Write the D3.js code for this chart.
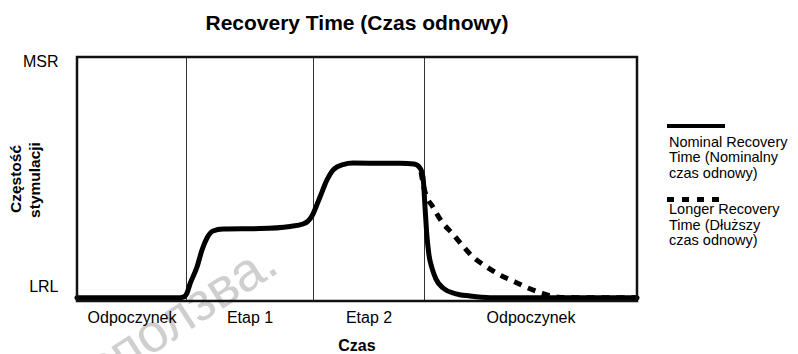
<!DOCTYPE html>
<html>
<head>
<meta charset="utf-8">
<script src="https://cdn.jsdelivr.net/npm/d3@7/dist/d3.min.js"></script>
<style>
  body { margin: 0; background: #fff; }
  svg text { font-family: "Liberation Sans", Arial, sans-serif; fill: #000; }
</style>
</head>
<body>
<svg id="chart" width="798" height="354"></svg>
<script>
// Phases of the exercise session (time in minutes)
const phaseLabels = ["Odpoczynek", "Etap 1", "Etap 2", "Odpoczynek"];
const phaseBounds = [0, 5.45, 11.8, 17.35, 28];

// Pacing rate, % of the span between LRL (0) and MSR (100)
const nominalTime = [0, 5.15, 5.3, 5.5, 5.65, 6.0, 6.25, 6.5, 6.8, 7.3, 9.15, 10.65, 11.3, 11.55,
  11.75, 11.95, 12.15, 12.5, 12.8, 13.3, 13.8, 16.15, 16.85, 17.15, 17.3, 17.4, 17.5, 17.6,
  17.75, 17.95, 18.3, 18.9, 19.65, 20.65, 28];
const nominalRate = [0, 0, 0.2, 1.9, 5.7, 12.7, 19.8, 24.8, 27.7, 28.5, 28.7, 29.6, 30.6, 31.8,
  33.9, 37.7, 41.8, 48.9, 53.0, 55.3, 55.9, 55.8, 55.5, 53.9, 50.1, 37.7, 25.2, 17.7,
  12.3, 7.7, 4.0, 1.7, 0.7, 0, 0];

const longerTime = [17.2, 17.4, 17.8, 18.25, 18.75, 19.25, 19.8, 20.5, 21.15, 21.9, 22.55, 23.3, 24.05, 24.9, 28];
const longerRate = [52.2, 43.9, 37.6, 31.4, 26.8, 21.9, 16.9, 12.7, 9.4, 6.5, 4.0, 1.7, 0.2, 0, 0];

const rateTickLabels = ["LRL", "MSR"];
const rateTickValues = [4.6, 98.1];

const seriesNames = [
  ["Nominal Recovery", "Time (Nominalny", "czas odnowy)"],
  ["Longer Recovery", "Time (Dłuższy", "czas odnowy)"]
];

const titleText = "Recovery Time (Czas odnowy)";
const yTitleLines = ["Częstość", "stymulacji"];
const xTitleText = "Czas";

const svg = d3.select("#chart");

const plot = { left: 77, right: 637, top: 57, bottom: 301 };

const x = d3.scaleLinear().domain([0, 28]).range([plot.left, plot.right]);
const y = d3.scaleLinear().domain([-1.4, 100]).range([plot.bottom, plot.top]);

// Watermark
svg.append("text")
  .attr("transform", "translate(281,271) rotate(-33)")
  .attr("text-anchor", "end")
  .style("font-size", "54px")
  .style("fill", "#cfcfcf")
  .text("използва.");

// Title
svg.append("text")
  .attr("x", 357).attr("y", 30)
  .attr("text-anchor", "middle")
  .style("font-size", "21px").style("font-weight", "bold")
  .text(titleText);

// Phase separators
svg.append("g").selectAll("line")
  .data(phaseBounds.slice(1, -1))
  .join("line")
  .attr("x1", d => Math.round(x(d)) + 0.5).attr("x2", d => Math.round(x(d)) + 0.5)
  .attr("y1", plot.top).attr("y2", plot.bottom)
  .attr("stroke", "#333").attr("stroke-width", 1);

// Curves
const line = d3.line()
  .x(d => x(d[0]))
  .y(d => y(d[1]))
  .curve(d3.curveMonotoneX);

svg.append("path")
  .datum(longerTime.map((t, i) => [t, longerRate[i]]))
  .attr("d", line)
  .attr("fill", "none").attr("stroke", "#000")
  .attr("stroke-width", 5).attr("stroke-dasharray", "8,7");

svg.append("path")
  .datum(nominalTime.map((t, i) => [t, nominalRate[i]]))
  .attr("d", line)
  .attr("fill", "none").attr("stroke", "#000")
  .attr("stroke-width", 5).attr("stroke-linejoin", "round").attr("stroke-linecap", "round");

// Plot frame
svg.append("rect")
  .attr("x", plot.left).attr("y", plot.top)
  .attr("width", plot.right - plot.left).attr("height", plot.bottom - plot.top)
  .attr("fill", "none").attr("stroke", "#111").attr("stroke-width", 2.5);

// X axis: phase names centred in each phase
const mids = phaseLabels.map((_, i) => (phaseBounds[i] + phaseBounds[i + 1]) / 2);
const xAxis = d3.axisBottom(x)
  .tickValues(mids)
  .tickFormat((d, i) => phaseLabels[i])
  .tickSize(0).tickPadding(11);
const gx = svg.append("g").attr("transform", `translate(0,${plot.bottom})`).call(xAxis);
gx.select(".domain").remove();
gx.selectAll("text").style("font-size", "16px").style("font-family", '"Liberation Sans", Arial, sans-serif').attr("fill", "#000");

// Y axis: LRL / MSR
const yAxis = d3.axisLeft(y)
  .tickValues(rateTickValues)
  .tickFormat((d, i) => rateTickLabels[i])
  .tickSize(0).tickPadding(18.5);
const gy = svg.append("g").attr("transform", `translate(${plot.left},0)`).call(yAxis);
gy.select(".domain").remove();
gy.selectAll("text").style("font-size", "16px").style("font-family", '"Liberation Sans", Arial, sans-serif').attr("fill", "#000");

// Axis titles
svg.append("text")
  .attr("transform", "translate(20.5,179) rotate(-90)")
  .attr("text-anchor", "middle")
  .style("font-size", "15.5px").style("font-weight", "bold")
  .text(yTitleLines[0]);
svg.append("text")
  .attr("transform", "translate(39.5,180) rotate(-90)")
  .attr("text-anchor", "middle")
  .style("font-size", "15.5px").style("font-weight", "bold")
  .text(yTitleLines[1]);

svg.append("text")
  .attr("x", 357).attr("y", 351)
  .attr("text-anchor", "middle")
  .style("font-size", "16px").style("font-weight", "bold")
  .text(xTitleText);

// Legend
const legend = svg.append("g");
const legendTop = [126, 199.5];
legend.selectAll("line")
  .data(seriesNames)
  .join("line")
  .attr("x1", 667).attr("x2", (d, i) => i === 0 ? 725 : 719)
  .attr("y1", (d, i) => legendTop[i]).attr("y2", (d, i) => legendTop[i])
  .attr("stroke", "#000")
  .attr("stroke-width", (d, i) => i === 0 ? 4 : 5)
  .attr("stroke-dasharray", (d, i) => i === 0 ? null : "7,8");

legend.selectAll("text.entry")
  .data(seriesNames)
  .join("text")
  .attr("class", "entry")
  .attr("x", 669)
  .attr("y", (d, i) => legendTop[i] + (i === 0 ? 20.5 : 14.5))
  .style("font-size", "14.5px")
  .selectAll("tspan")
  .data(d => d)
  .join("tspan")
  .attr("x", 669)
  .attr("dy", (d, i) => i === 0 ? 0 : 15.5)
  .text(d => d);
</script>
</body>
</html>
